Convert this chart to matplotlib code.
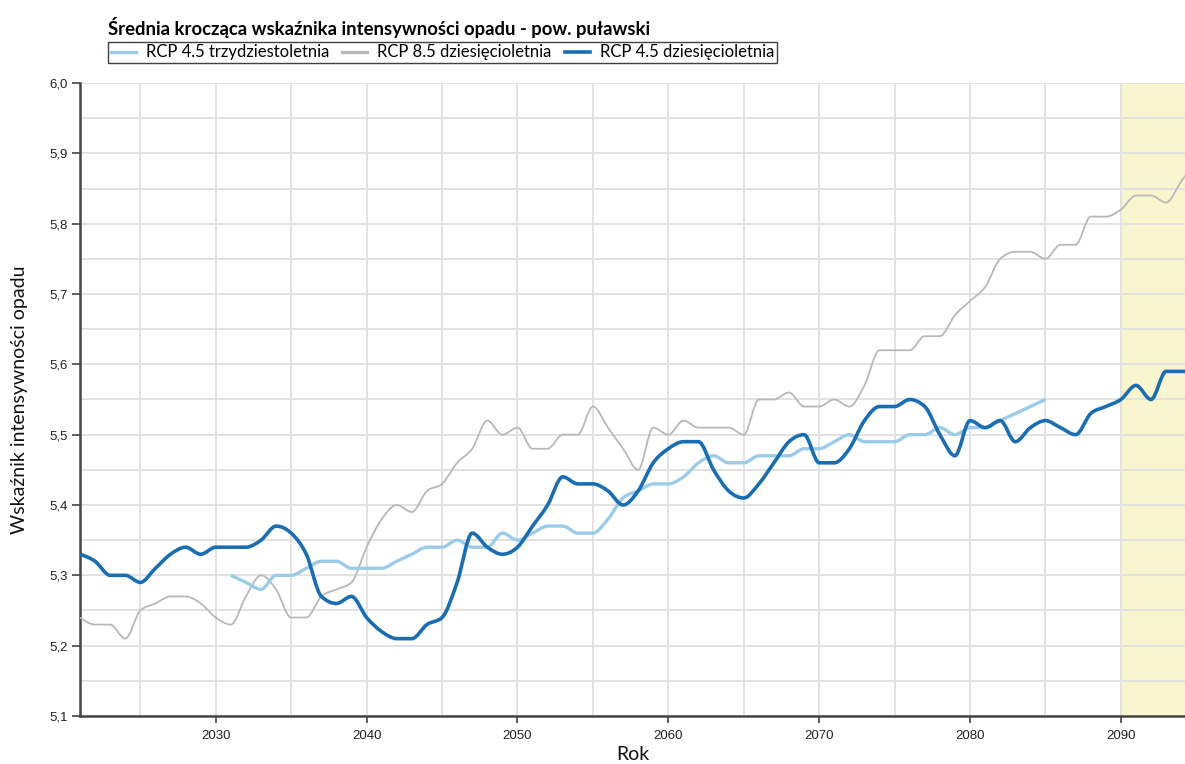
import numpy as np
import matplotlib
matplotlib.use("Agg")
import matplotlib.pyplot as plt
from matplotlib.path import Path
from matplotlib.patches import PathPatch
from matplotlib.lines import Line2D
from matplotlib.ticker import FuncFormatter, MultipleLocator

# --- data ---
years_45_10 = list(range(2021, 2096))
rcp45_10 = [5.33, 5.32, 5.30, 5.30, 5.29, 5.31, 5.33, 5.34, 5.33, 5.34,
            5.34, 5.34, 5.35, 5.37, 5.36, 5.33, 5.27, 5.26, 5.27, 5.24,
            5.22, 5.21, 5.21, 5.23, 5.24, 5.29, 5.36, 5.34, 5.33, 5.34,
            5.37, 5.40, 5.44, 5.43, 5.43, 5.42, 5.40, 5.42, 5.46, 5.48,
            5.49, 5.49, 5.45, 5.42, 5.41, 5.43, 5.46, 5.49, 5.50, 5.46,
            5.46, 5.48, 5.52, 5.54, 5.54, 5.55, 5.54, 5.50, 5.47, 5.52,
            5.51, 5.52, 5.49, 5.51, 5.52, 5.51, 5.50, 5.53, 5.54, 5.55,
            5.57, 5.55, 5.59, 5.59, 5.59]

years_45_30 = list(range(2031, 2086))
rcp45_30 = [5.30, 5.29, 5.28, 5.30, 5.30, 5.31, 5.32, 5.32, 5.31, 5.31,
            5.31, 5.32, 5.33, 5.34, 5.34, 5.35, 5.34, 5.34, 5.36, 5.35,
            5.36, 5.37, 5.37, 5.36, 5.36, 5.38, 5.41, 5.42, 5.43, 5.43,
            5.44, 5.46, 5.47, 5.46, 5.46, 5.47, 5.47, 5.47, 5.48, 5.48,
            5.49, 5.50, 5.49, 5.49, 5.49, 5.50, 5.50, 5.51, 5.50, 5.51,
            5.51, 5.52, 5.53, 5.54, 5.55]

years_85_10 = list(range(2021, 2096))
rcp85_10 = [5.24, 5.23, 5.23, 5.21, 5.25, 5.26, 5.27, 5.27, 5.26, 5.24,
            5.23, 5.27, 5.30, 5.28, 5.24, 5.24, 5.27, 5.28, 5.29, 5.34,
            5.38, 5.40, 5.39, 5.42, 5.43, 5.46, 5.48, 5.52, 5.50, 5.51,
            5.48, 5.48, 5.50, 5.50, 5.54, 5.51, 5.48, 5.45, 5.51, 5.50,
            5.52, 5.51, 5.51, 5.51, 5.50, 5.55, 5.55, 5.56, 5.54, 5.54,
            5.55, 5.54, 5.57, 5.62, 5.62, 5.62, 5.64, 5.64, 5.67, 5.69,
            5.71, 5.75, 5.76, 5.76, 5.75, 5.77, 5.77, 5.81, 5.81, 5.82,
            5.84, 5.84, 5.83, 5.86, 5.89]

highlight_start = 2090


def monotone_path(x, y):
    # cubic bezier path with monotone tangents (like d3.curveMonotoneX)
    x = np.asarray(x, float)
    y = np.asarray(y, float)
    h = np.diff(x)
    s = np.diff(y) / h
    t = np.zeros(len(x))
    for i in range(1, len(x) - 1):
        p = (s[i - 1] * h[i] + s[i] * h[i - 1]) / (h[i - 1] + h[i])
        t[i] = (np.sign(s[i - 1]) + np.sign(s[i])) * min(abs(s[i - 1]), abs(s[i]), 0.5 * abs(p))
    t[0] = (3 * s[0] - t[1]) / 2
    t[-1] = (3 * s[-1] - t[-2]) / 2
    verts = [(x[0], y[0])]
    codes = [Path.MOVETO]
    for i in range(len(x) - 1):
        dx = h[i] / 3
        verts += [(x[i] + dx, y[i] + dx * t[i]),
                  (x[i + 1] - dx, y[i + 1] - dx * t[i + 1]),
                  (x[i + 1], y[i + 1])]
        codes += [Path.CURVE4] * 3
    return Path(verts, codes)


c_light = "#9ccbe8"
c_gray = "#b8b8b8"
c_dark = "#1a6db0"

plt.rcParams["font.family"] = ["Liberation Sans", "DejaVu Sans"]

fig = plt.figure(figsize=(11.85, 7.64), dpi=100)
ax = fig.add_axes([80 / 1185, 48 / 764, 1105 / 1185, 633 / 764])

ax.set_xlim(2021, 2094.25)
ax.set_ylim(5.1, 6.0)

ax.axvspan(highlight_start, 2100, color="#f9f6cf", zorder=0, lw=0)

ax.xaxis.set_major_locator(MultipleLocator(10))
ax.xaxis.set_minor_locator(MultipleLocator(5))
ax.yaxis.set_major_locator(MultipleLocator(0.1))
ax.yaxis.set_minor_locator(MultipleLocator(0.05))
ax.grid(True, which="both", color="#e2e2e2", lw=1.4, zorder=1)
ax.set_axisbelow(True)

for xs, ys, col, lw in [(years_85_10, rcp85_10, c_gray, 1.3),
                        (years_45_30, rcp45_30, c_light, 2.4),
                        (years_45_10, rcp45_10, c_dark, 2.6)]:
    patch = PathPatch(monotone_path(xs, ys), facecolor="none", edgecolor=col,
                      lw=lw, zorder=3, capstyle="butt", joinstyle="round")
    ax.add_patch(patch)

for side in ["top", "right"]:
    ax.spines[side].set_visible(False)
for side in ["left", "bottom"]:
    ax.spines[side].set_color("#444444")
    ax.spines[side].set_linewidth(1.8)

ax.yaxis.set_major_formatter(FuncFormatter(lambda v, p: f"{v:.1f}".replace(".", ",")))
ax.tick_params(which="major", width=1.2, color="#444444",
               labelsize=9.5, labelcolor="#222222")
ax.tick_params(axis="y", which="major", length=6, pad=3)
ax.tick_params(axis="x", which="major", length=5, pad=5)
ax.tick_params(which="minor", length=0)

ax.set_xlabel("Rok", fontsize=14, family="Lato", labelpad=3, color="#111111")
ax.set_ylabel("Wskaźnik intensywności opadu", fontsize=14, family="Lato",
              labelpad=15, color="#111111")

fig.text(108 / 1185, 1 - 27 / 764, "Średnia krocząca wskaźnika intensywności opadu - pow. puławski",
         fontsize=13.3, fontweight="bold", family="Lato", va="center", ha="left")

handles = [Line2D([], [], color=c_light, lw=2.4),
           Line2D([], [], color=c_gray, lw=2.4),
           Line2D([], [], color=c_dark, lw=2.6)]
labels = ["RCP 4.5 trzydziestoletnia", "RCP 8.5 dziesięcioletnia", "RCP 4.5 dziesięcioletnia"]
leg = fig.legend(handles, labels, loc="upper left", bbox_to_anchor=(108 / 1185, 1 - 42 / 764),
                 ncol=3, frameon=True, fancybox=False, edgecolor="#111111",
                 handlelength=1.5, handletextpad=0.6, columnspacing=0.8,
                 borderpad=0.15, borderaxespad=0, prop={"family": "Lato", "size": 12})
leg.get_frame().set_linewidth(1.0)

fig.savefig("out.png", dpi=100)
